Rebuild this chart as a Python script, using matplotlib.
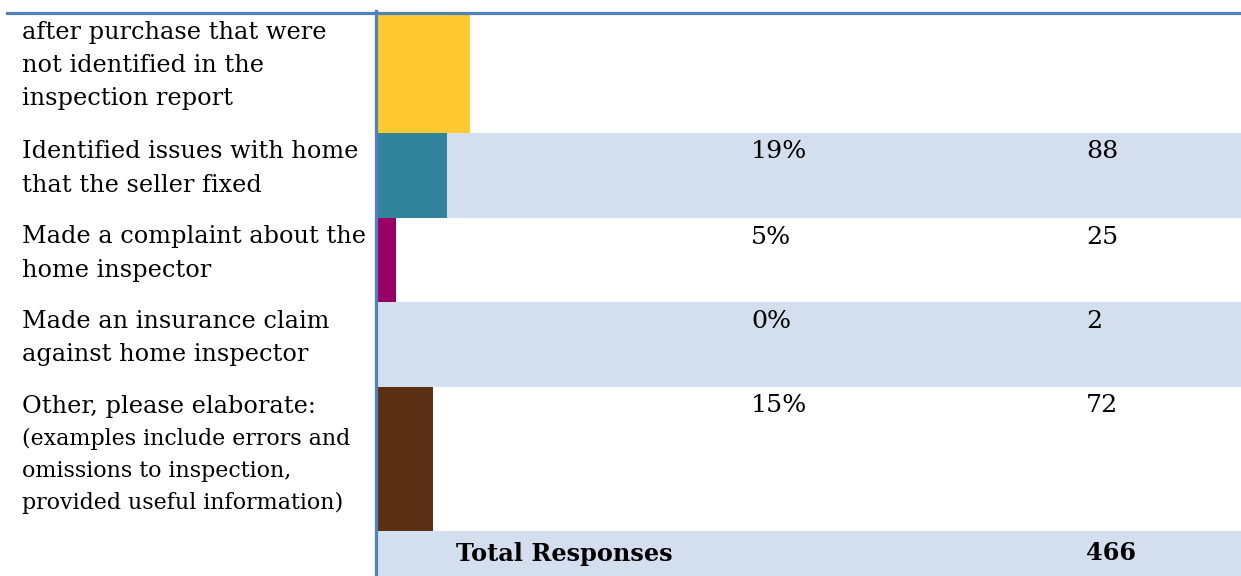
import matplotlib.pyplot as plt
from matplotlib.lines import Line2D

# answers (top row is cut off at the top of the page)
labels = [
    ["after purchase that were", "not identified in the", "inspection report"],
    ["Identified issues with home", "that the seller fixed"],
    ["Made a complaint about the", "home inspector"],
    ["Made an insurance claim", "against home inspector"],
    ["Other, please elaborate:"],
]
note_lines = ["(examples include errors and", "omissions to inspection,",
              "provided useful information)"]
pct_values = [25, 19, 5, 0, 15]
pct_text = ["", "19%", "5%", "0%", "15%"]
count_text = ["", "88", "25", "2", "72"]
total_label = "Total Responses"
total_value = "466"

bar_colors = ["#FFCA30", "#31849B", "#990066", "#D3DFEE", "#5A3014"]
shade = "#D3DFEE"
blue = "#4F81BD"

# row layout in pixels below the top rule
row_edges = [0, 120, 205, 289, 374, 518, 563]
shaded_rows = [1, 3, 5]

W, H = 1241, 576
fig = plt.figure(figsize=(W / 100, H / 100), dpi=100)
ax = fig.add_axes([377 / W, 0, (W - 377) / W, 563 / H])
ax.set_xlim(0, 864 / 3.7)
ax.set_ylim(row_edges[-1], 0)
ax.axis("off")

font = "DejaVu Serif"
fs = 17.3

tops = row_edges[:-1]
heights = [b - a for a, b in zip(row_edges[:-1], row_edges[1:])]

# shaded bands
for i in shaded_rows:
    ax.axhspan(row_edges[i], row_edges[i + 1], color=shade, lw=0, zorder=0)

ax.barh([t + h / 2 for t, h in zip(tops[:5], heights[:5])], pct_values,
        height=heights[:5], color=bar_colors, lw=0, zorder=2)

tr = ax.get_yaxis_transform()
for i, lines in enumerate(labels):
    y0 = tops[i] + 19 if i > 0 else 20
    for k, line in enumerate(lines):
        ax.annotate(line, xy=(22 / W, y0 + 33 * k),
                    xycoords=("figure fraction", "data"),
                    va="center", ha="left", fontsize=fs, family=font,
                    annotation_clip=False)
    ax.text(0.433, y0, pct_text[i], transform=tr, va="center", ha="left",
            fontsize=fs * 1.05, family=font)
    ax.text(0.8206, y0, count_text[i], transform=tr, va="center", ha="left",
            fontsize=fs * 1.05, family=font)

y4 = tops[4] + 20
for k, line in enumerate(note_lines):
    ax.annotate(line, xy=(22 / W, y4 + 32 + 32 * k),
                xycoords=("figure fraction", "data"),
                va="center", ha="left", fontsize=15.9, family=font,
                annotation_clip=False)

yt = tops[5] + heights[5] / 2
ax.text(0.0914, yt, total_label, transform=tr, va="center", ha="left",
        fontsize=fs, family=font, fontweight="bold")
ax.text(0.8206, yt, total_value, transform=tr, va="center", ha="left",
        fontsize=fs, family=font, fontweight="bold")

# rules
fig.add_artist(Line2D([7 / W, 1], [1 - 12.5 / H, 1 - 12.5 / H],
                      color=blue, lw=2.3, transform=fig.transFigure))
fig.add_artist(Line2D([375.5 / W, 375.5 / W], [0, 1 - 11 / H],
                      color=blue, lw=2.3, transform=fig.transFigure))

fig.savefig("out.png", dpi=100)
